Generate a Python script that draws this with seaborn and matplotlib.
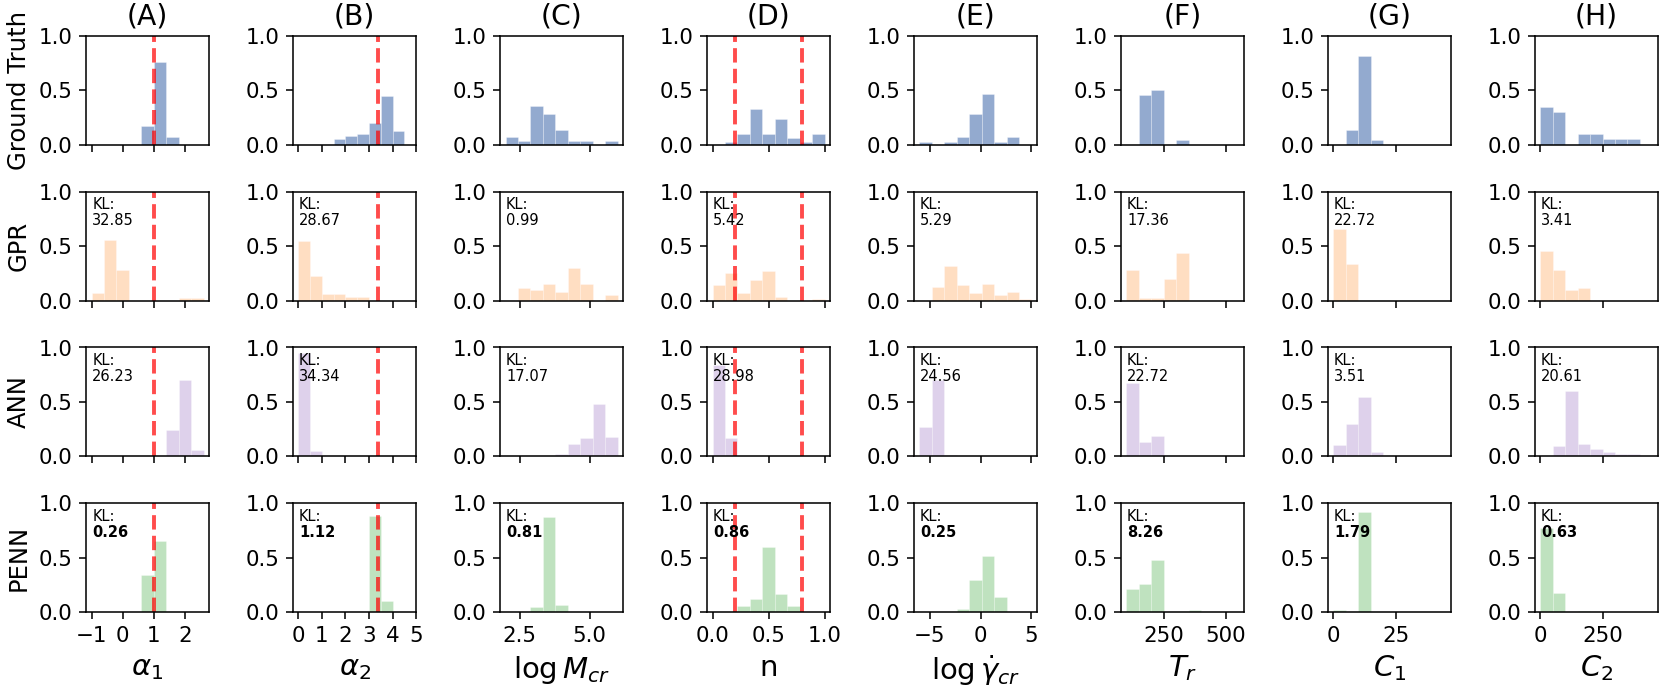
import numpy as np
import pandas as pd
import matplotlib
matplotlib.use('Agg')
import matplotlib.pyplot as plt
import seaborn as sns

# parameters / columns
param_labels = [r'$\alpha_1$', r'$\alpha_2$', r'$\log M_{cr}$', 'n',
                r'$\log \dot{\gamma}_{cr}$', r'$T_r$', r'$C_1$', r'$C_2$']
col_titles = ['(A)', '(B)', '(C)', '(D)', '(E)', '(F)', '(G)', '(H)']
row_names = ['Ground Truth', 'GPR', 'ANN', 'PENN']

# histogram bin range per parameter (9 equal bins)
bin_ranges = [(-1.0, 2.6), (0.0, 4.5), (2.0, 6.0), (0.0, 1.0),
              (-6.0, 5.0), (100, 550), (0, 45), (0, 450)]
# true value / bounds shown as red dashed lines
true_lines = [[1.0], [3.37], [], [0.2, 0.8], [], [], [], []]

# bar heights (fraction of samples per bin), one list per parameter
gt_hist = [
    [0, 0, 0, 0, 0.17, 0.76, 0.07, 0, 0],
    [0, 0, 0, 0.05, 0.077, 0.10, 0.20, 0.45, 0.125],
    [0.07, 0.034, 0.356, 0.285, 0.14, 0.034, 0.034, 0, 0.034],
    [0, 0.03, 0.10, 0.33, 0.10, 0.233, 0.067, 0.03, 0.10],
    [0.03, 0, 0.03, 0.07, 0.285, 0.463, 0.03, 0.07, 0],
    [0, 0.454, 0.50, 0, 0.043, 0, 0, 0, 0],
    [0, 0.135, 0.816, 0.043, 0, 0, 0, 0, 0],
    [0.35, 0.30, 0, 0.10, 0.10, 0.05, 0.05, 0.05, 0],
]
gpr_hist = [
    [0.07, 0.56, 0.28, 0, 0, 0, 0, 0.02, 0.02],
    [0.55, 0.23, 0.065, 0.065, 0.037, 0.037, 0, 0, 0],
    [0, 0.114, 0.098, 0.157, 0.083, 0.295, 0.157, 0, 0.055],
    [0.145, 0.255, 0.07, 0.185, 0.274, 0.037, 0, 0, 0.012],
    [0, 0.123, 0.32, 0.142, 0.068, 0.157, 0.049, 0.083, 0.012],
    [0.28, 0.02, 0.028, 0.20, 0.434, 0, 0, 0, 0],
    [0.655, 0.34, 0, 0, 0, 0, 0, 0, 0],
    [0.46, 0.277, 0.098, 0.12, 0, 0, 0, 0, 0],
]
ann_hist = [
    [0, 0, 0, 0, 0, 0, 0.24, 0.70, 0.055],
    [0.95, 0.05, 0, 0, 0, 0, 0, 0, 0],
    [0, 0, 0, 0.006, 0.024, 0.11, 0.17, 0.485, 0.177],
    [0.84, 0.165, 0, 0, 0, 0, 0, 0, 0],
    [0.274, 0.70, 0.012, 0, 0, 0, 0, 0, 0],
    [0.67, 0.137, 0.183, 0, 0, 0, 0, 0, 0],
    [0.107, 0.30, 0.543, 0.037, 0, 0, 0, 0, 0],
    [0, 0.098, 0.604, 0.116, 0.064, 0.04, 0.018, 0.018, 0],
]
penn_hist = [
    [0, 0, 0, 0.006, 0.34, 0.65, 0, 0, 0],
    [0, 0, 0, 0, 0, 0.005, 0.88, 0.107, 0],
    [0, 0, 0.05, 0.87, 0.07, 0.005, 0, 0, 0],
    [0, 0, 0.06, 0.12, 0.60, 0.163, 0.055, 0, 0],
    [0, 0, 0, 0.03, 0.30, 0.52, 0.138, 0, 0],
    [0.215, 0.255, 0.475, 0, 0.006, 0.02, 0.005, 0.005, 0],
    [0.02, 0.006, 0.92, 0, 0, 0, 0, 0.005, 0],
    [0.776, 0.18, 0, 0.015, 0.005, 0, 0, 0, 0],
]

# KL divergence to ground truth
gpr_kl = ['32.85', '28.67', '0.99', '5.42', '5.29', '17.36', '22.72', '3.41']
ann_kl = ['26.23', '34.34', '17.07', '28.98', '24.56', '22.72', '3.51', '20.61']
penn_kl = ['0.26', '1.12', '0.81', '0.86', '0.25', '8.26', '1.79', '0.63']

x_limits = [(-1.18, 2.78), (-0.22, 5.0), (1.8, 6.2), (-0.05, 1.05),
            (-6.55, 5.55), (77.5, 572.5), (-2.25, 47.25), (-22.5, 472.5)]
x_ticks = [[-1, 0, 1, 2], [0, 1, 2, 3, 4, 5], [2.5, 5.0], [0.0, 0.5, 1.0],
           [-5, 0, 5], [250, 500], [0, 25], [0, 250]]

row_hists = [gt_hist, gpr_hist, ann_hist, penn_hist]
row_kls = [None, gpr_kl, ann_kl, penn_kl]
row_colors = ['#4c72b0', '#ff7f0e', '#9467bd', '#2ca02c']
row_alpha = [0.6, 0.25, 0.3, 0.3]

fig, axes = plt.subplots(4, 8, figsize=(11.857, 4.936), dpi=140, sharex='col')
fig.subplots_adjust(left=0.0518, right=0.9988, top=0.948, bottom=0.114,
                    wspace=0.68, hspace=0.43)

for j in range(8):
    lo, hi = bin_ranges[j]
    edges = np.linspace(lo, hi, 10)
    centers = (edges[:-1] + edges[1:]) / 2
    for i in range(4):
        ax = axes[i, j]
        df = pd.DataFrame({'value': centers, 'frac': row_hists[i][j]})
        sns.histplot(data=df, x='value', weights='frac', bins=edges.tolist(),
                     ax=ax, color=row_colors[i], alpha=row_alpha[i],
                     edgecolor=(1, 1, 1, 0.3), linewidth=0.5)
        for v in true_lines[j]:
            ax.axvline(v, color='red', alpha=0.7, linestyle='--', linewidth=2)
        ax.set_ylim(0, 1)
        ax.set_yticks([0.0, 0.5, 1.0])
        ax.set_ylabel('')
        ax.set_xlabel('')
        ax.tick_params(labelsize=11)
        if row_kls[i] is not None:
            ax.text(0.05, 0.95, 'KL:', transform=ax.transAxes, va='top',
                    ha='left', fontsize=7.5)
            ax.text(0.05, 0.805, row_kls[i][j], transform=ax.transAxes,
                    va='top', ha='left', fontsize=7.5,
                    fontweight='bold' if i == 3 else 'normal')
        if i == 0:
            ax.set_title(col_titles[j], fontsize=14.5)
        if j == 0:
            ax.set_ylabel(row_names[i], fontsize=12.5)
    axes[3, j].set_xticks(x_ticks[j])
    axes[3, j].set_xlim(*x_limits[j])
    axes[3, j].set_xlabel(param_labels[j], fontsize=15)

fig.savefig('out.png', dpi=140)
